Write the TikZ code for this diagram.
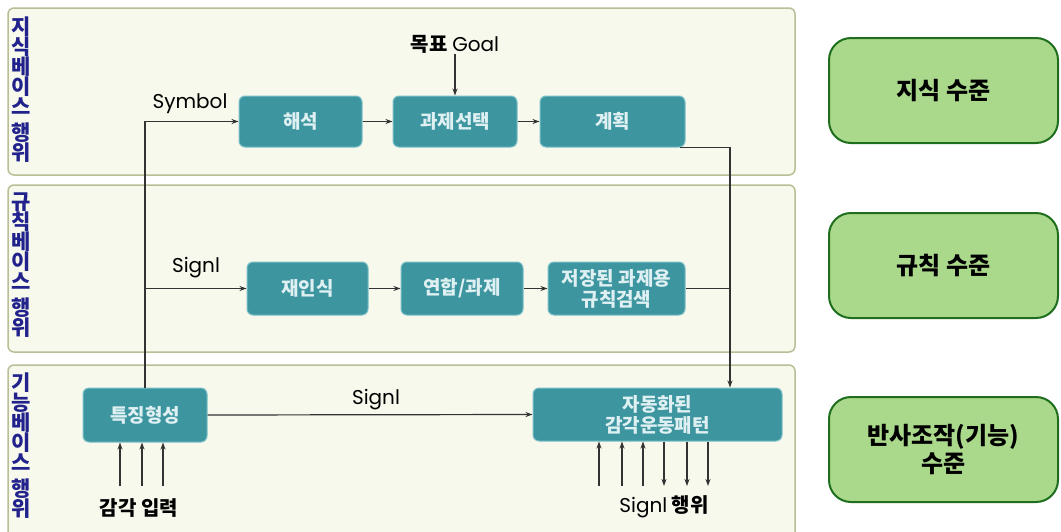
\documentclass[tikz,border=0pt]{standalone}
\usepackage{fontspec}
\setmainfont{Noto Sans CJK KR}
\newfontfamily\latfont{Poppins}
\definecolor{panelfill}{RGB}{246,249,236}
\definecolor{paneledge}{RGB}{184,190,150}
\definecolor{tealbox}{RGB}{61,149,160}
\definecolor{tealedge}{RGB}{125,192,200}
\definecolor{tealtext}{RGB}{222,240,242}
\definecolor{levelfill}{RGB}{171,217,140}
\definecolor{leveledge}{RGB}{30,110,30}
\definecolor{sidetext}{RGB}{34,34,140}
\usetikzlibrary{arrows.meta}

\begin{document}
\begin{tikzpicture}[x=1pt, y=-1pt,
    panel/.style={draw=paneledge, line width=1.5pt, fill=panelfill, rounded corners=6pt},
    proc/.style={draw=tealedge, line width=1pt, fill=tealbox, rounded corners=6pt,
      text=tealtext, font=\fontsize{19}{21}\selectfont\bfseries, align=center, inner sep=0pt},
    level/.style={draw=leveledge, line width=2pt, fill=levelfill, rounded corners=22pt,
      minimum width=229pt, minimum height=105pt, align=center,
      font=\fontsize{24}{28}\selectfont\bfseries},
    side/.style={text=sidetext, font=\fontsize{21}{20}\selectfont\bfseries, align=center, inner sep=0pt},
    lbl/.style={font=\fontsize{20}{22}\selectfont\bfseries, inner sep=1pt},
    latlbl/.style={font=\latfont\fontsize{20}{22}\selectfont, inner sep=1pt},
    flow/.style={-{Stealth[length=7pt,width=5pt]}, line width=1.2pt, draw=black!80},
    wire/.style={line width=1.2pt, draw=black!80}]
        \useasboundingbox (0,0) rectangle (1061,531);

        % Panels
        \draw[panel] (8,8) rectangle (795,175);
        \draw[panel] (8,185) rectangle (795,352);
        \draw[panel] (8,365) rectangle (795,545);
        \node[side] (kside) at (21,90) {지\\식\\베\\이\\스\\[6pt]행\\위};
        \node[side] (rside) at (21,265) {규\\칙\\베\\이\\스\\[6pt]행\\위};
        \node[side] (sside) at (21,446) {기\\능\\베\\이\\스\\[6pt]행\\위};

        % Processing boxes
        \node[proc, minimum width=123pt, minimum height=51pt] (interp) at (300.5,121.5) {해석};
        \node[proc, minimum width=124pt, minimum height=51pt] (select) at (455,121.5) {과제선택};
        \node[proc, minimum width=145pt, minimum height=51pt] (plan) at (612.5,121.5) {계획};
        \node[proc, minimum width=121pt, minimum height=53pt] (recog) at (307.5,288.5) {재인식};
        \node[proc, minimum width=122pt, minimum height=53pt] (assoc) at (462,288.5) {연합/과제};
        \node[proc, minimum width=137pt, minimum height=53pt] (rule) at (616.5,288.5) {저장된 과제용\\규칙검색};
        \node[proc, minimum width=124pt, minimum height=54pt] (feat) at (145,415) {특징형성};
        \node[proc, minimum width=249pt, minimum height=53pt] (auto) at (657.5,414.5) {자동화된\\감각운동패턴};

        % Levels
        \node[level] (klevel) at (943.5,90.5) {지식 수준};
        \node[level] (rlevel) at (943.5,265.5) {규칙 수준};
        \node[level] (slevel) at (943.5,449.5) {반사조작(기능)\\수준};

        % Labels
        \node[lbl] (goal) at (455,44) {목표 {\latfont\mdseries Goal}};
        \node[latlbl] (symb) at (190,104) {Symbol};
        \node[latlbl] (sigr) at (196,268) {Signl};
        \node[latlbl] (sigs) at (376,400) {Signl};
        \node[lbl] (inp) at (139,508) {감각 입력};
        \node[lbl] (act) at (664,507) {{\latfont\mdseries Signl} 행위};

        % Arrows
        \coordinate (drop) at (730,148);
        \draw[flow] (feat.north) |- (interp.west);
        \draw[flow] (feat.north |- recog.west) -- (recog.west);
        \draw[flow] (interp.east) -- (select.west);
        \draw[flow] (select.east) -- (plan.west);
        \draw[flow] (goal) -- (select.north);
        \draw[flow] (recog.east) -- (assoc.west);
        \draw[flow] (assoc.east) -- (rule.west);
        \draw[flow] ([xshift=-6pt]plan.south east) -| (drop |- auto.north);
        \draw[wire] (rule.east) -- (rule.east -| drop);
        \draw[flow] (feat.east) -- (auto.west);
        \foreach \x in {120,142,163}
            \draw[flow] (\x,486) -- (feat.south -| \x,0);
        \foreach \x in {599,622,643}
            \draw[flow] (\x,486) -- (auto.south -| \x,0);
        \foreach \x in {664,687,708}
            \draw[flow] (auto.south -| \x,0) -- (\x,486);
    \end{tikzpicture}
\end{document}
